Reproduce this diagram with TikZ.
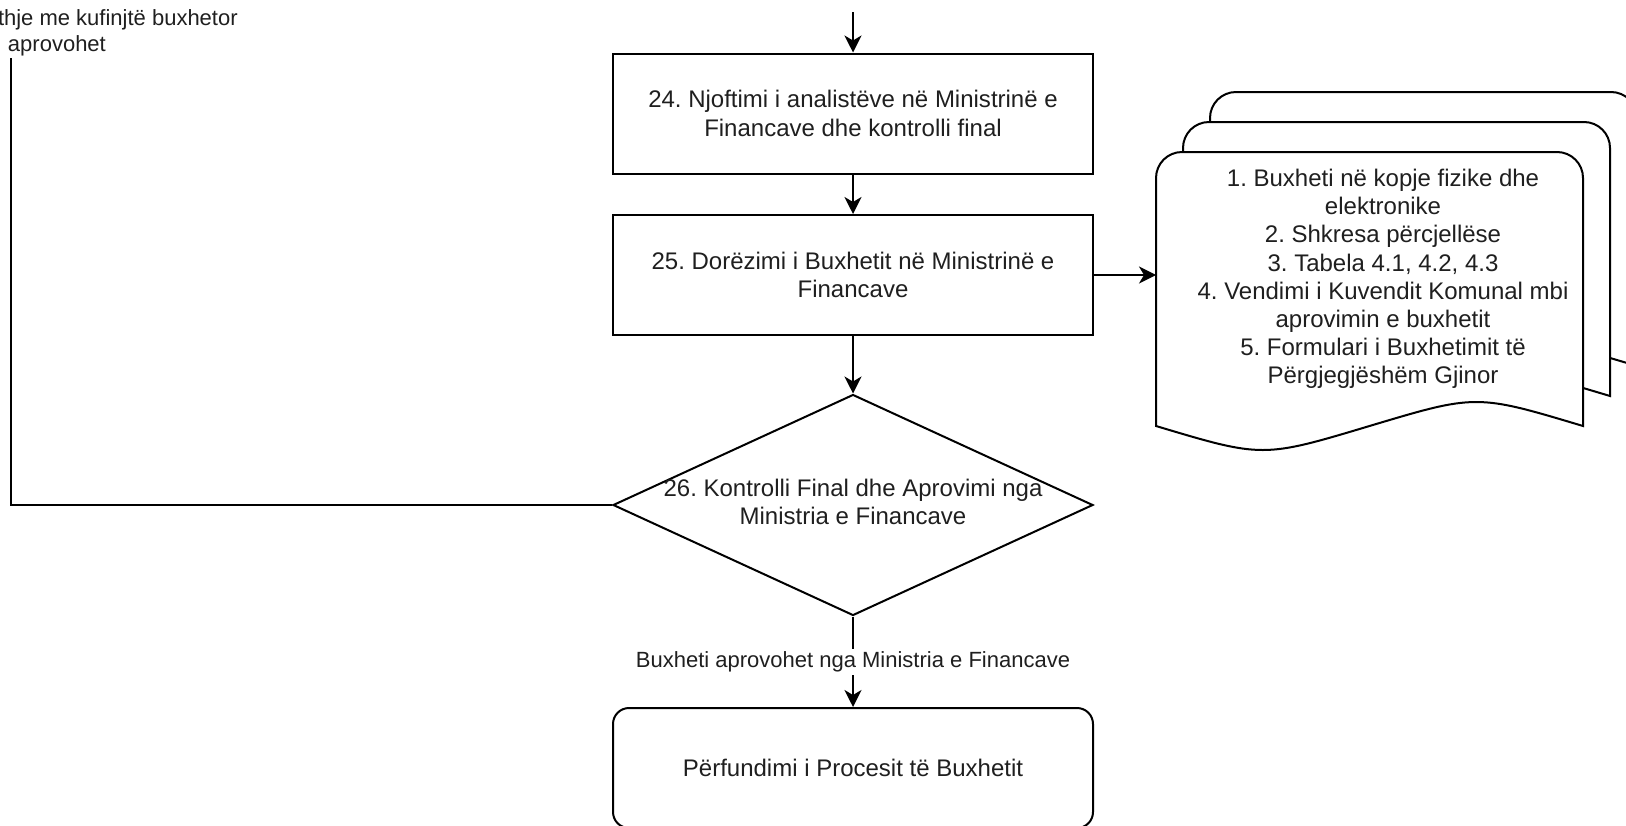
\documentclass[tikz,border=0pt]{standalone}
\usepackage{fontspec}
\setmainfont{Liberation Sans}
\usetikzlibrary{arrows.meta,shapes.geometric}
\frenchspacing

% stacked document sheet: left x, top y, right x, mid height of the wavy bottom
\newcommand\multidoc[4]{%
  \draw[fill=white]
    (#3,#4) .. controls ({#3-(#3-#1)/4},{#4-32}) .. ({(#1+#3)/2},#4)
            .. controls ({#1+(#3-#1)/4},{#4+32}) .. (#1,#4)
    -- (#1,{#2+26}) arc(180:270:26) -- ({#3-26},#2) arc(270:360:26) -- cycle;}

\begin{document}
\begin{tikzpicture}[x=0.5pt,y=-0.5pt,line width=1pt,
  >={Stealth[length=8.5pt,width=8.5pt,inset=2.5pt]},
  txt/.style={font=\fontsize{12pt}{14.1pt}\selectfont,text=black!88},
  small/.style={font=\fontsize{11pt}{13.2pt}\selectfont,text=black!88},
  procbox/.style={txt,draw,rectangle,minimum width=240pt,minimum height=60pt,
    align=center,inner sep=0pt},
  endbox/.style={txt,draw,rectangle,rounded corners=8pt,minimum width=240pt,
    minimum height=60pt,align=center,inner sep=0pt},
  decision/.style={txt,draw,diamond,minimum width=240pt,minimum height=110.5pt,
    inner sep=0pt},
  edgelabel/.style={small,fill=white,inner sep=1.5pt}]

\useasboundingbox (0,0) rectangle (1626,825);
\clip (0,0) rectangle (1626,825);

% main process column
\node[procbox] (b24) at (853,113.5)
  {24. Njoftimi i analistëve në Ministrinë e\\Financave dhe kontrolli final};
\node[procbox] (b25) at (853,275)
  {25. Dorëzimi i Buxhetit në Ministrinë e\\Financave};
\node[decision] (dec) at (853,505)
  {\makebox[0pt]{\raisebox{-2pt}{\begin{tabular}{@{}c@{}}26. Kontrolli Final dhe Aprovimi nga\\Ministria e Financave\end{tabular}}}};
\node[endbox] (fin) at (853,768) {Përfundimi i Procesit të Buxhetit};

% attached documents
\multidoc{1210}{92}{1637}{366}
\multidoc{1183}{122}{1610}{396}
\multidoc{1156}{152}{1583}{426}
\node[txt,align=center,inner sep=0pt] (docs) at (1383,279)
  {1. Buxheti në kopje fizike dhe\\elektronike\\2. Shkresa përcjellëse\\
   3. Tabela 4.1, 4.2, 4.3\\4. Vendimi i Kuvendit Komunal mbi\\
   aprovimin e buxhetit\\5. Formulari i Buxhetimit të\\Përgjegjëshëm Gjinor};
\coordinate (docin) at (1156,275);

% connectors
\coordinate (start) at (853,12);
\draw[->] (start) -- (b24);
\draw[->] (b24) -- (b25);
\draw[->] (b25) -- (dec);
\draw[->] (b25.east) -- (docin);
\draw[->] (dec.south) -- node[edgelabel,pos=0.5] (okl)
  {Buxheti aprovohet nga Ministria e Financave} (fin.north);

% return branch on the left
\coordinate (ret) at (11,58);
\draw (dec.west) -| (ret);
\node[small,anchor=base west,inner sep=0pt] (retA) at (-3,25) {thje me kufinjtë buxhetor};
\node[small,anchor=base west,inner sep=0pt] (retB) at (7,51) {aprovohet};
\end{tikzpicture}
\end{document}
